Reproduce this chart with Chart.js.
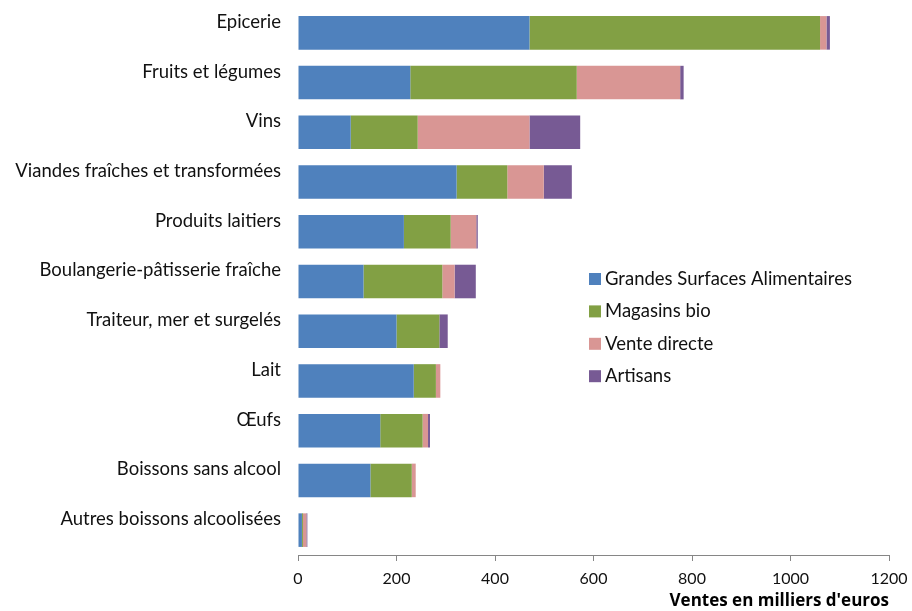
<!DOCTYPE html>
<html>
<head>
<meta charset="utf-8">
<script src="https://cdn.jsdelivr.net/npm/chart.js@4.4.1/dist/chart.umd.min.js"></script>
<style>
  html, body { margin: 0; padding: 0; background: #fff; }
</style>
</head>
<body>
<canvas id="ventesChart" width="912" height="611"></canvas>
<script>
// categories top to bottom
const categories = [
    'Epicerie',
    'Fruits et légumes',
    'Vins',
    'Viandes fraîches et transformées',
    'Produits laitiers',
    'Boulangerie-pâtisserie fraîche',
    'Traiteur, mer et surgelés',
    'Lait',
    'Œufs',
    'Boissons sans alcool',
    'Autres boissons alcoolisées'
];

// ventes en milliers d'euros
const grandesSurfaces = [470, 228, 107, 322, 215, 133, 200, 235, 167, 147, 8];
const magasinsBio     = [590, 338, 136, 103,  95, 160,  87,  45,  86,  84, 2];
const venteDirecte    = [ 13, 210, 227,  74,  52,  25,   0,   9,  11,   8, 7];
const artisans        = [  7,   7, 103,  57,   3,  43,  17,   0,   4,   0, 2];

const xTicks = [0, 200, 400, 600, 800, 1000, 1200];

const FONT = 'Lato, "Open Sans", sans-serif';

// legend drawn inside the plot area, like the original
const legendInside = {
    id: 'legendInside',
    afterDraw: function(chart) {
        const ctx = chart.ctx;
        ctx.save();
        ctx.font = '18.5px ' + FONT;
        ctx.textBaseline = 'middle';
        ctx.textAlign = 'left';
        chart.data.datasets.forEach(function(ds, i) {
            const y = 279 + i * 32.4;
            ctx.fillStyle = ds.backgroundColor;
            ctx.fillRect(589, y - 6, 12, 12);
            ctx.fillStyle = '#111';
            ctx.fillText(ds.label, 605, y);
        });
        ctx.restore();
    }
};

// no automatic padding around the scales
function noPad(scale) {
    scale.paddingTop = 0;
    scale.paddingBottom = 0;
    scale.paddingLeft = 0;
    scale.paddingRight = 0;
}

const ctx = document.getElementById('ventesChart').getContext('2d');
new Chart(ctx, {
    type: 'bar',
    data: {
        labels: categories,
        datasets: [
            { label: 'Grandes Surfaces Alimentaires', data: grandesSurfaces, backgroundColor: '#4F81BD' },
            { label: 'Magasins bio', data: magasinsBio, backgroundColor: '#82A044' },
            { label: 'Vente directe', data: venteDirecte, backgroundColor: '#D99694' },
            { label: 'Artisans', data: artisans, backgroundColor: '#775A94' }
        ]
    },
    options: {
        indexAxis: 'y',
        responsive: false,
        animation: false,
        layout: { padding: { top: 8, right: 23, left: 0, bottom: 0 } },
        datasets: {
            bar: { barPercentage: 0.675, categoryPercentage: 1 }
        },
        plugins: {
            legend: { display: false },
            tooltip: { enabled: false }
        },
        scales: {
            x: {
                stacked: true,
                min: 0,
                max: 1200,
                afterBuildTicks: function(scale) {
                    scale.ticks = xTicks.map(v => ({ value: v }));
                },
                afterFit: function(scale) { scale.height = 56; noPad(scale); },
                grid: { drawOnChartArea: false, drawTicks: true, tickLength: 6, color: '#868686' },
                border: { display: true, color: '#868686' },
                ticks: {
                    color: '#111',
                    font: { family: FONT, size: 16 },
                    padding: 8,
                    maxRotation: 0,
                    callback: function(value) { return String(value); }
                },
                title: {
                    display: true,
                    text: "Ventes en milliers d'euros",
                    align: 'end',
                    color: '#000',
                    font: { family: '"Open Sans", Lato, sans-serif', size: 17, weight: 'bold' },
                    padding: { top: 0, bottom: 0 }
                }
            },
            y: {
                stacked: true,
                afterFit: function(scale) { scale.width = 298; noPad(scale); },
                grid: { display: false, drawTicks: false },
                border: { display: false },
                ticks: { color: '#111', font: { family: FONT, size: 18.5 }, padding: 17, labelOffset: -11 }
            }
        }
    },
    plugins: [legendInside]
});
</script>
</body>
</html>
